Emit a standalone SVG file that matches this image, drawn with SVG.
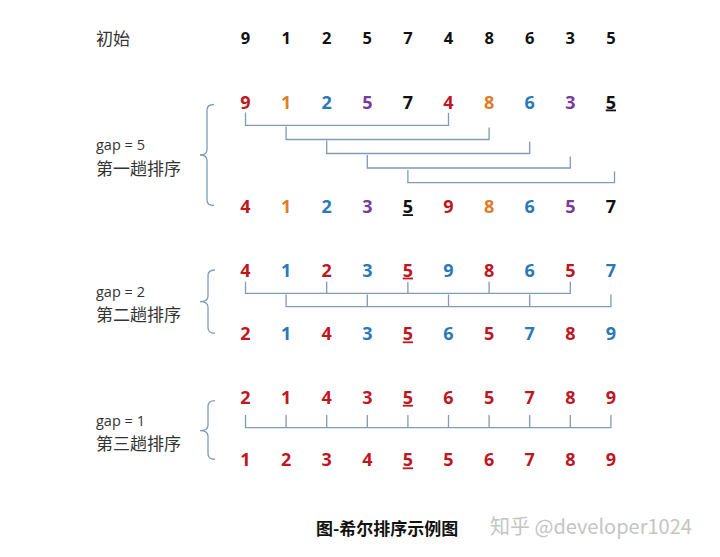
<svg xmlns="http://www.w3.org/2000/svg" width="720" height="557" viewBox="0 0 720 557">
<style>
.d{font-family:"Open Sans","Liberation Sans",sans-serif;font-weight:700;font-size:18px;text-anchor:middle}
.d0{font-size:16.5px;fill:#111}
.r{fill:#c0161f}.o{fill:#e07c2c}.b{fill:#2a78b8}.p{fill:#7a3a9e}.k{fill:#111}
.u{text-decoration:underline}
.lb{font-family:"Open Sans","Liberation Sans",sans-serif;font-size:14.5px;fill:#333}
.cn{font-family:"Noto Sans CJK SC",sans-serif;font-size:17px;fill:#333}
.ln{fill:none;stroke:#7f9bb8;stroke-width:1.3}
.br{fill:none;stroke:#7f9bb8;stroke-width:1.3}
</style>
<rect width="720" height="557" fill="#fff"/>

<g id="row-initial">
<text x="96" y="44.5" class="cn">初始</text>
<g class="d d0">
<text x="245.5" y="44">9</text><text x="286.1" y="44">1</text><text x="326.7" y="44">2</text><text x="367.3" y="44">5</text><text x="407.9" y="44">7</text><text x="448.5" y="44">4</text><text x="489.1" y="44">8</text><text x="529.7" y="44">6</text><text x="570.3" y="44">3</text><text x="610.9" y="44">5</text>
</g>
</g>

<g id="pass1">
<path class="br" d="M214,104.5 Q207,104.5 207,110 L207,149.5 Q207,155 200,155 Q207,155 207,160.5 L207,200 Q207,205.5 214,205.5"/>
<text x="96" y="150" class="lb">gap = 5</text>
<text x="96" y="174.5" class="cn">第一趟排序</text>
<g class="d">
<text x="245.5" y="108.5" class="r">9</text><text x="286.1" y="108.5" class="o">1</text><text x="326.7" y="108.5" class="b">2</text><text x="367.3" y="108.5" class="p">5</text><text x="407.9" y="108.5" class="k">7</text><text x="448.5" y="108.5" class="r">4</text><text x="489.1" y="108.5" class="o">8</text><text x="529.7" y="108.5" class="b">6</text><text x="570.3" y="108.5" class="p">3</text><text x="610.9" y="108.5" class="k u">5</text>
</g>
<g class="d">
<text x="245.5" y="213.2" class="r">4</text><text x="286.1" y="213.2" class="o">1</text><text x="326.7" y="213.2" class="b">2</text><text x="367.3" y="213.2" class="p">3</text><text x="407.9" y="213.2" class="k u">5</text><text x="448.5" y="213.2" class="r">9</text><text x="489.1" y="213.2" class="o">8</text><text x="529.7" y="213.2" class="b">6</text><text x="570.3" y="213.2" class="p">5</text><text x="610.9" y="213.2" class="k">7</text>
</g>
</g>

<g id="pass2">
<path class="br" d="M215,270 Q208,270 208,275.5 L208,296.2 Q208,301.7 200,301.7 Q208,301.7 208,307.2 L208,327.8 Q208,333.3 215,333.3"/>
<text x="96" y="296.7" class="lb">gap = 2</text>
<text x="96" y="321" class="cn">第二趟排序</text>
<g class="d">
<text x="245.5" y="276.6" class="r">4</text><text x="286.1" y="276.6" class="b">1</text><text x="326.7" y="276.6" class="r">2</text><text x="367.3" y="276.6" class="b">3</text><text x="407.9" y="276.6" class="r u">5</text><text x="448.5" y="276.6" class="b">9</text><text x="489.1" y="276.6" class="r">8</text><text x="529.7" y="276.6" class="b">6</text><text x="570.3" y="276.6" class="r">5</text><text x="610.9" y="276.6" class="b">7</text>
</g>
<g class="d">
<text x="245.5" y="340.4" class="r">2</text><text x="286.1" y="340.4" class="b">1</text><text x="326.7" y="340.4" class="r">4</text><text x="367.3" y="340.4" class="b">3</text><text x="407.9" y="340.4" class="r u">5</text><text x="448.5" y="340.4" class="b">6</text><text x="489.1" y="340.4" class="r">5</text><text x="529.7" y="340.4" class="b">7</text><text x="570.3" y="340.4" class="r">8</text><text x="610.9" y="340.4" class="b">9</text>
</g>
</g>

<g id="pass3">
<path class="br" d="M215,400.7 Q208,400.7 208,406.2 L208,425.2 Q208,430.7 200,430.7 Q208,430.7 208,436.2 L208,453.8 Q208,459.3 215,459.3"/>
<text x="96" y="425.7" class="lb">gap = 1</text>
<text x="96" y="450" class="cn">第三趟排序</text>
<g class="d r">
<text x="245.5" y="403.8">2</text><text x="286.1" y="403.8">1</text><text x="326.7" y="403.8">4</text><text x="367.3" y="403.8">3</text><text x="407.9" y="403.8" class="u">5</text><text x="448.5" y="403.8">6</text><text x="489.1" y="403.8">5</text><text x="529.7" y="403.8">7</text><text x="570.3" y="403.8">8</text><text x="610.9" y="403.8">9</text>
</g>
<g class="d r">
<text x="245.5" y="466.4">1</text><text x="286.1" y="466.4">2</text><text x="326.7" y="466.4">3</text><text x="367.3" y="466.4">4</text><text x="407.9" y="466.4" class="u">5</text><text x="448.5" y="466.4">5</text><text x="489.1" y="466.4">6</text><text x="529.7" y="466.4">7</text><text x="570.3" y="466.4">8</text><text x="610.9" y="466.4">9</text>
</g>
</g>

<g id="connectors">
<path class="ln" d="M245.5,112.5 V125.3 H448.5 V113"/>
<path class="ln" d="M286.1,126.5 V139.5 H489.1 V127.5"/>
<path class="ln" d="M326.7,140.5 V153.5 H529.7 V141.5"/>
<path class="ln" d="M367.3,155 V168 H570.3 V156.5"/>
<path class="ln" d="M407.9,170 V182.7 H614.5 V171.5"/>

<path class="ln" d="M245.5,281.7 V293.3 H570.3 V281.7 M326.7,281.7 V293.3 M407.9,282 V293.3 M489.1,281.7 V293.3"/>
<path class="ln" d="M286.1,294.5 V306.7 H610.9 V294.5 M367.3,294.5 V306.7 M448.5,294.5 V306.7 M529.7,294.5 V306.7"/>

<path class="ln" d="M245.5,415 V427.7 H610.9 V415 M286.1,415 V427.7 M326.7,415 V427.7 M367.3,415 V427.7 M407.9,415 V427.7 M448.5,415 V427.7 M489.1,415 V427.7 M529.7,415 V427.7 M570.3,415 V427.7"/>
</g>

<g id="caption">
<text x="316" y="534.5" font-family="'Noto Sans CJK SC',sans-serif" font-weight="700" font-size="17" fill="#111">图-希尔排序示例图</text>
<text x="490" y="534" font-family="'Noto Sans CJK SC',sans-serif" font-size="20" fill="#c4c4c4">知乎 @developer1024</text>
</g>
</svg>
